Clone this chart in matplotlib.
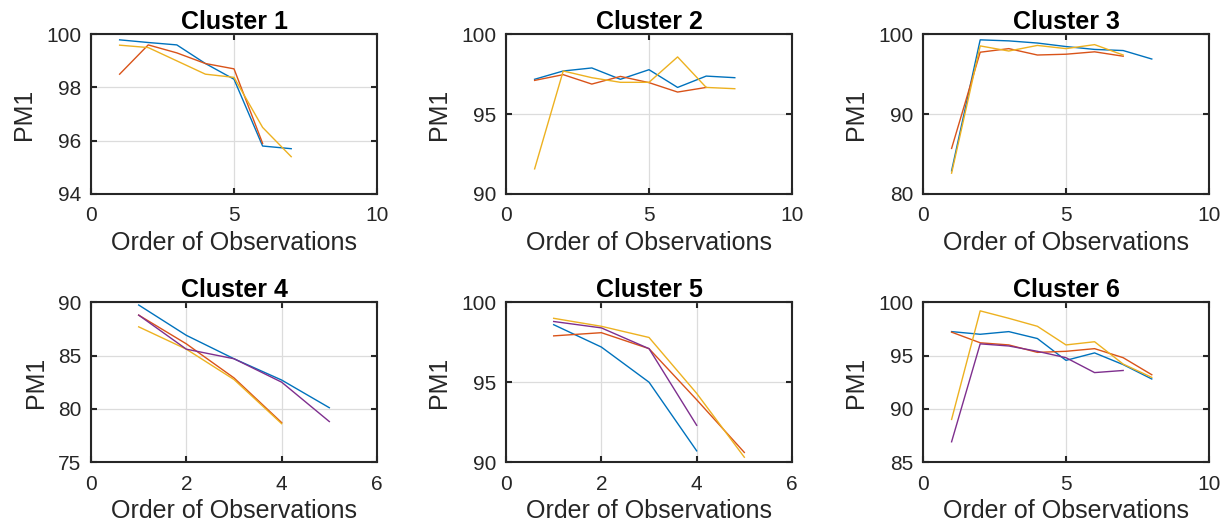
import matplotlib
matplotlib.use("Agg")
import matplotlib.pyplot as plt

plt.rcParams['font.family'] = ['Liberation Sans', 'DejaVu Sans']

# PM1 per cluster, one list per series (x = 1, 2, 3, ...)
c1_s1 = [99.79, 99.69, 99.6, 98.9, 98.31, 95.8, 95.7]
c1_s2 = [98.5, 99.6, 99.3, 98.9, 98.7, 95.9]
c1_s3 = [99.59, 99.5, 99.0, 98.5, 98.38, 96.5, 95.4]

c2_s1 = [97.18, 97.7, 97.89, 97.18, 97.78, 96.67, 97.38, 97.28]
c2_s2 = [97.11, 97.47, 96.88, 97.36, 96.97, 96.38, 96.67]
c2_s3 = [91.57, 97.7, 97.28, 96.99, 96.99, 98.58, 96.67, 96.59]

c3_s1 = [82.9, 99.3, 99.17, 98.9, 98.46, 98.1, 97.96, 96.9]
c3_s2 = [85.7, 97.75, 98.2, 97.4, 97.5, 97.8, 97.25]
c3_s3 = [82.6, 98.54, 97.9, 98.6, 98.2, 98.7, 97.4]

c4_s1 = [89.75, 86.9, 84.7, 82.7, 80.1]
c4_s2 = [88.8, 86.1, 82.9, 78.7]
c4_s3 = [87.7, 85.6, 82.75, 78.6]
c4_s4 = [88.8, 85.6, 84.7, 82.5, 78.8]

c5_s1 = [98.6, 97.2, 95.0, 90.7]
c5_s2 = [97.9, 98.1, 97.1, 93.9, 90.6]
c5_s3 = [99.0, 98.5, 97.8, 94.3, 90.3]
c5_s4 = [98.8, 98.4, 97.1, 92.3]

c6_s1 = [97.25, 97.0, 97.25, 96.6, 94.55, 95.25, 94.15, 92.8]
c6_s2 = [97.2, 96.2, 96.0, 95.3, 95.4, 95.65, 94.8, 93.2]
c6_s3 = [89.0, 99.2, 98.5, 97.75, 96.0, 96.3, 94.2, 92.95]
c6_s4 = [86.9, 96.1, 95.9, 95.4, 94.8, 93.4, 93.6]

clusters = [
    [c1_s1, c1_s2, c1_s3],
    [c2_s1, c2_s2, c2_s3],
    [c3_s1, c3_s2, c3_s3],
    [c4_s1, c4_s2, c4_s3, c4_s4],
    [c5_s1, c5_s2, c5_s3, c5_s4],
    [c6_s1, c6_s2, c6_s3, c6_s4],
]
titles = ['Cluster 1', 'Cluster 2', 'Cluster 3', 'Cluster 4', 'Cluster 5', 'Cluster 6']
ylims = [(94, 100), (90, 100), (80, 100), (75, 90), (90, 100), (85, 100)]
yticks = [[94, 96, 98, 100], [90, 95, 100], [80, 90, 100],
          [75, 80, 85, 90], [90, 95, 100], [85, 90, 95, 100]]
xlims = [(0, 10), (0, 10), (0, 10), (0, 6), (0, 6), (0, 10)]
xticks = [[0, 5, 10], [0, 5, 10], [0, 5, 10], [0, 2, 4, 6], [0, 2, 4, 6], [0, 5, 10]]

colors = ['#0072BD', '#D95319', '#EDB120', '#7E2F8E']

fig = plt.figure(figsize=(12.3, 5.27), dpi=100)
lefts = [0.074, 0.4114, 0.7504]
bottoms = [0.632, 0.1233]

for i, series in enumerate(clusters):
    ax = fig.add_axes([lefts[i % 3], bottoms[i // 3], 0.2325, 0.303])
    for j, ys in enumerate(series):
        ax.plot(range(1, len(ys) + 1), ys, color=colors[j], lw=1.0)
    ax.set_xlim(*xlims[i])
    ax.set_ylim(*ylims[i])
    ax.set_xticks(xticks[i])
    ax.set_yticks(yticks[i])
    ax.grid(True, color='#dcdcdc', lw=0.9)
    ax.set_axisbelow(True)
    for sp in ax.spines.values():
        sp.set_color('#262626')
        sp.set_linewidth(1.5)
    ax.tick_params(direction='in', top=True, right=True, length=4, width=1.5,
                   colors='#262626', labelsize=15)
    ax.tick_params(axis='x', pad=9)
    ax.tick_params(axis='y', pad=7)
    ax.set_title(titles[i], fontsize=18, fontweight='bold', pad=4)
    ax.set_xlabel('Order of Observations', fontsize=18, color='#262626', labelpad=4)
    ax.set_ylabel('PM1', fontsize=18, color='#262626', labelpad=7)

fig.savefig('out.png', dpi=100)
